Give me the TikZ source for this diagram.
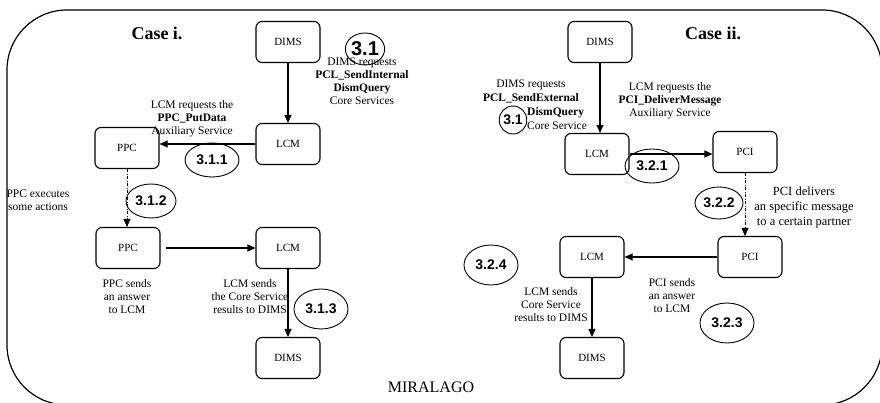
\documentclass[tikz,border=0pt]{standalone}
\usepackage{fontspec}
\setmainfont{Liberation Serif}
\newfontfamily\numfont{Liberation Sans}
\usetikzlibrary{arrows.meta,shapes.geometric}

\begin{document}
\begin{tikzpicture}[x=1pt,y=-1pt,
  box/.style={draw,rounded corners=6pt,line width=1.1pt,minimum width=64pt,
    minimum height=41pt,inner sep=0pt,font=\fontsize{11}{12}\selectfont},
  lbl/.style={align=center,inner sep=0pt,font=\fontsize{11.5}{13}\selectfont},
  num/.style={draw,ellipse,line width=0.9pt,minimum width=54pt,minimum height=38pt,
    inner sep=0pt,font=\numfont\bfseries\fontsize{14}{14}\selectfont},
  flow/.style={line width=1.1pt,-{Triangle[length=8pt,width=7pt]}},
  dflow/.style={line width=0.6pt,dash pattern=on 3pt off 1.5pt on 1pt off 1.5pt,
    -{Triangle[length=8pt,width=7pt]}},
  title/.style={font=\bfseries\fontsize{18}{18}\selectfont}]

\useasboundingbox (0,0) rectangle (880,403);
% outer frame, partly running past the page edge
\begin{scope}
  \clip (0,0) rectangle (880,403);
  \draw[line width=1.2pt,rounded corners=60pt] (7,10) rectangle (882,405);
\end{scope}

\node[title] (casei) at (157,33) {Case i.};
\node[title] (caseii) at (713,33) {Case ii.};
\node[font=\fontsize{16}{16}\selectfont] (mir) at (431,387) {MIRALAGO};

% Case i boxes
\node[box] (d1) at (288,42) {DIMS};
\node[box] (l1) at (288,144) {LCM};
\node[box] (p1) at (127,148) {PPC};
\node[box] (p2) at (128,248) {PPC};
\node[box] (l2) at (288,248) {LCM};
\node[box] (d2) at (288,358) {DIMS};

% Case ii boxes
\node[box] (d3) at (600,42) {DIMS};
\node[box] (l3) at (597,154) {LCM};
\node[box] (c1) at (745,152) {PCI};
\node[box] (c2) at (750,257) {PCI};
\node[box] (l4) at (592,257) {LCM};
\node[box] (d4) at (592,358) {DIMS};

% Case i connectors
\draw[flow] (d1) -- (l1);
\draw[flow] (l1.west) -- (l1.west -| p1.east);
\draw[dflow] (p1.south) -- (p1.south |- p2.north);
\draw[flow] ([xshift=5pt]p2.east) -- (p2.east -| l2.west);
\draw[flow] (l2) -- (d2);

% Case ii connectors
\draw[flow] (d3.south) -- (d3.south |- l3.north);
\draw[flow] (l3.east) -- (l3.east -| c1.west);
\draw[dflow] (c1.south) -- (c1.south |- c2.north);
\draw[flow] (c2.west) -- (c2.west -| l4.east);
\draw[flow] (l4) -- (d4);

% Case i texts
\node[lbl] (t1) at (192,119) {LCM requests the\\\textbf{PPC\_PutData}\\Auxiliary Service};
\node[lbl] (t2) at (362,81) {DIMS requests\\\textbf{PCL\_SendInternal}\\\textbf{DismQuery}\\Core Services};
\node[lbl] (t3) at (38,200) {PPC executes\\some actions};
\node[lbl] (t4) at (127,297) {PPC sends\\an answer\\to LCM};
\node[lbl] (t5) at (250,297) {LCM sends\\the Core Service\\results to DIMS};

% Case ii texts
\node[lbl,font=\fontsize{11.5}{14}\selectfont] (t6) at (531,91) {DIMS requests\\\textbf{PCL\_SendExternal}};
\node[lbl,font=\fontsize{11.5}{14}\selectfont,align=left,anchor=west] (t6b) at (527,119) {\textbf{DismQuery}\\Core Service};
\node[lbl] (t7) at (670,101) {LCM requests the\\\textbf{PCI\_DeliverMessage}\\Auxiliary Service};
\node[lbl,font=\fontsize{12.5}{15}\selectfont] (t8) at (804,207) {PCI delivers\\an specific message\\to a certain partner};
\node[lbl] (t9) at (672,296) {PCI sends\\an answer\\to LCM};
\node[lbl] (t10) at (551,305) {LCM sends\\Core Service\\results to DIMS};

% step numbers
\node[num,minimum width=36pt,minimum height=32pt,font=\numfont\bfseries\fontsize{20}{20}\selectfont] (n31a) at (365,49) {3.1};
\node[num,minimum height=34pt] (n311) at (212,160) {3.1.1};
\node[num,minimum width=50pt,minimum height=34pt] (n312) at (151,201) {3.1.2};
\node[num,minimum height=40pt] (n313) at (321,309) {3.1.3};
\node[num,minimum width=26pt,minimum height=28pt] (n31b) at (513,120) {3.1};
\node[num,minimum height=34pt] (n321) at (652,166) {3.2.1};
\node[num,minimum width=48pt,minimum height=32pt] (n322) at (719,203) {3.2.2};
\node[num,minimum height=40pt] (n323) at (727,323) {3.2.3};
\node[num,minimum height=40pt] (n324) at (491,265) {3.2.4};
\end{tikzpicture}
\end{document}
